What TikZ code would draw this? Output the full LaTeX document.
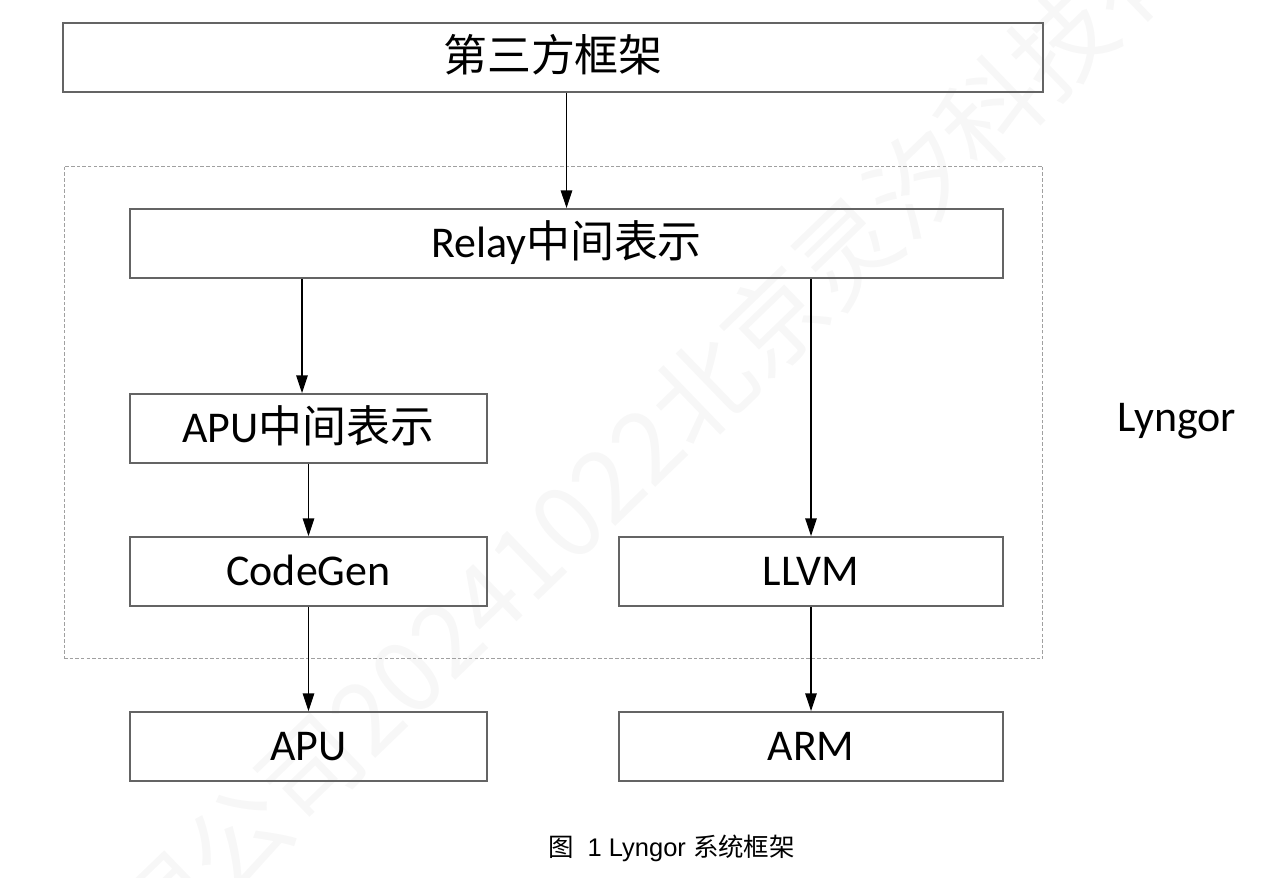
\documentclass[tikz,border=0pt]{standalone}
\usepackage{fontspec}
\setmainfont{Carlito}
\newfontfamily\cjk{Noto Sans CJK SC}
\newfontfamily\capfont{Liberation Sans}
\usetikzlibrary{arrows.meta}
\definecolor{boxgray}{RGB}{100,100,100}
\definecolor{dashgray}{RGB}{160,160,160}

\begin{document}
\begin{tikzpicture}[x=0.02cm, y=-0.02cm,
  block/.style={draw=boxgray, line width=1.1pt, minimum height=1.38cm, inner sep=0pt,
    text height=16pt, text depth=0pt, font=\fontsize{25}{30}\selectfont},
  region/.style={draw=dashgray, line width=0.6pt, dash pattern=on 2pt off 1.2pt, inner sep=0pt},
  arr/.style={-{Triangle[length=10pt,width=6.5pt]}, line width=0.6pt}]
\useasboundingbox (0,0) rectangle (1266,877);
% watermark
\node[rotate=44, text=black!3, font=\cjk\fontsize{57}{60}\selectfont] (mark) at (650,440) {限公司20241022北京灵汐科技有};
\node[region, minimum width=19.58cm, minimum height=9.86cm] (core) at (553.5,412.5) {};
\node[block, minimum width=19.6cm] (frame) at (553,57.5) {\cjk 第三方框架};
\node[block, minimum width=17.46cm] (relay) at (566.5,243.5) {Relay{\cjk 中间表示}};
\node[block, minimum width=7.14cm] (apuir) at (308.5,428.5) {APU{\cjk 中间表示}};
\node[block, minimum width=7.14cm] (codegen) at (308.5,571.5) {CodeGen};
\node[block, minimum width=7.68cm] (llvm) at (811,571.5) {LLVM};
\node[block, minimum width=7.14cm] (apu) at (308.5,746.5) {APU};
\node[block, minimum width=7.68cm] (arm) at (811,746.5) {ARM};
\node[anchor=base, font=\fontsize{25}{30}\selectfont] (lyngor) at (1177,431) {Lyngor};
\node[font=\capfont\fontsize{14.5}{17}\selectfont] (caption) at (671.5,848) {{\cjk 图}\ \ 1 Lyngor {\cjk 系统框架}};
% arrows
\coordinate (irin) at ([xshift=-0.13cm]apuir.north);
\draw[arr] (frame.south -| relay.north) -- (relay.north);
\draw[arr] (relay.south -| irin) -- (irin);
\draw[arr] (relay.south -| llvm.north) -- (llvm.north);
\draw[arr] (apuir) -- (codegen);
\draw[arr] (codegen) -- (apu);
\draw[arr] (llvm) -- (arm);
\end{tikzpicture}
\end{document}
